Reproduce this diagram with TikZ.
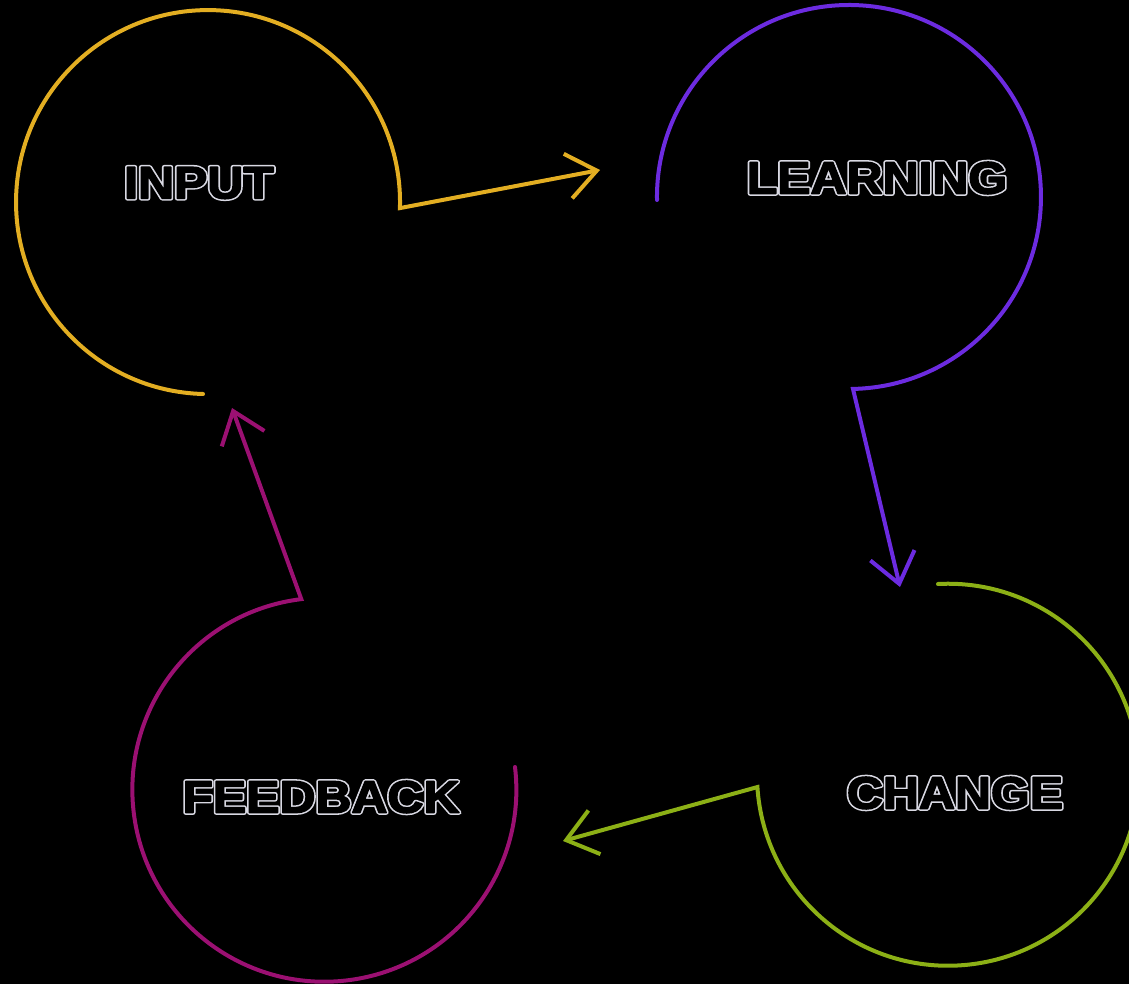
\documentclass[tikz,border=0pt]{standalone}
\usepackage{fontspec}
\setmainfont{Liberation Sans}
\usetikzlibrary{arrows.meta}
\definecolor{cyel}{HTML}{E3AE22}
\definecolor{cpur}{HTML}{6C2BE0}
\definecolor{cgrn}{HTML}{8CB016}
\definecolor{cmag}{HTML}{9B1072}
\tikzset{
  loopline/.style={line width=3pt, line cap=round, line join=miter},
  barbtip/.style={-{Straight Barb[length=22pt,width=34pt]}},
  lbl/.style={text=black, font=\fontsize{34}{40}\selectfont\bfseries, inner sep=0pt},
}
% outlined text: a wide light-grey stroke, then black fill with a narrower black stroke on top
\newcommand{\outtext}[1]{\scalebox{1.1}[1]{%
  \rlap{\special{pdf:literal direct 2 Tr 3.4 w 1 j 0.85 0.85 0.89 RG 0.85 0.85 0.89 rg}#1}%
  \special{pdf:literal direct 2 Tr 1.1 w 1 j 0 0 0 RG 0 0 0 rg}#1%
  \special{pdf:literal direct 0 Tr}}}
\begin{document}
\begin{tikzpicture}[x=0.75pt,y=-0.75pt]
  \fill[black] (0,0) rectangle (1129,984);
  \useasboundingbox (0,0) rectangle (1129,984);

  % labels
  \node[lbl] (input) at (199,183) {\outtext{INPUT}};
  \node[lbl] (learning) at (877,178) {\outtext{LEARNING}};
  \node[lbl] (feedback) at (321,797) {\outtext{FEEDBACK}};
  \node[lbl] (change) at (955,793) {\outtext{CHANGE}};

  % free ends of arrows
  \coordinate (ytip) at (600,170);
  \coordinate (ptip) at (900,587);
  \coordinate (gtip) at (563,841);
  \coordinate (mtip) at (232,408);

  % yellow loop (INPUT)
  \draw[loopline, cyel, barbtip] (203,394) arc[start angle=91.5, end angle=361.8, radius=192] coordinate (yend) -- (ytip);
  % purple loop (LEARNING)
  \draw[loopline, cpur, barbtip] (657,200) arc[start angle=179.1, end angle=448.8, radius=192] coordinate (pend) -- (ptip);
  % green loop (CHANGE)
  \draw[loopline, cgrn, barbtip] (938,584) arc[start angle=267, end angle=536.3, radius=191] coordinate (gend) -- (gtip);
  % magenta loop (FEEDBACK)
  \draw[loopline, cmag, barbtip] (515,767) arc[start angle=353.2, end angle=623.1, radius=192] coordinate (mend) -- (mtip);
\end{tikzpicture}
\end{document}
